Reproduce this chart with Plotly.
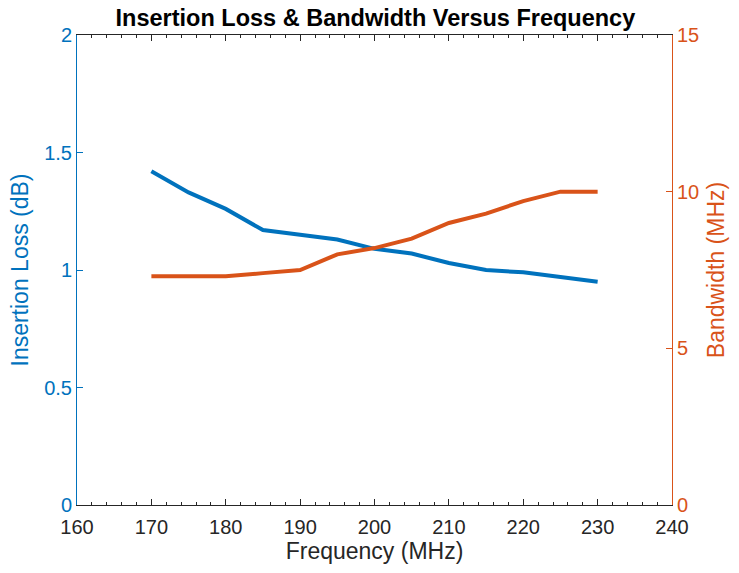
import plotly.graph_objects as go

freq = [170, 175, 180, 185, 190, 195, 200, 205, 210, 215, 220, 225, 230]
insertion_loss = [1.42, 1.33, 1.26, 1.17, 1.15, 1.13, 1.09, 1.07, 1.03, 1.00, 0.99, 0.97, 0.95]
bandwidth = [7.3, 7.3, 7.3, 7.4, 7.5, 8.0, 8.2, 8.5, 9.0, 9.3, 9.7, 10.0, 10.0]

x_ticks = [160, 170, 180, 190, 200, 210, 220, 230, 240]
y1_ticks = [0, 0.5, 1, 1.5, 2]
y1_labels = ["0", "0.5", "1", "1.5", "2"]
y2_ticks = [0, 5, 10, 15]

BLUE = "#0072BD"
ORANGE = "#D95319"
DARK = "#262626"
FONT = "Liberation Sans, Arial, sans-serif"

fig = go.Figure()
fig.add_trace(go.Scatter(x=freq, y=insertion_loss, mode="lines",
                         line=dict(color=BLUE, width=4), yaxis="y", showlegend=False))
fig.add_trace(go.Scatter(x=freq, y=bandwidth, mode="lines",
                         line=dict(color=ORANGE, width=4), yaxis="y2", showlegend=False))

fig.update_layout(
    width=739, height=573,
    margin=dict(l=77, r=67, t=35, b=68),
    paper_bgcolor="white", plot_bgcolor="white",
    font=dict(family=FONT, size=20, color=DARK),
    title=dict(text="<b>Insertion Loss & Bandwidth Versus Frequency</b>",
               x=0.508, xanchor="center", y=1 - 18 / 573, yanchor="middle",
               font=dict(family=FONT, size=23.5, color="black")),
    xaxis=dict(range=[160, 240], tickvals=x_ticks, ticks="inside", ticklen=6,
               tickcolor=DARK, showline=True, linecolor=DARK, linewidth=1,
               mirror="ticks", showgrid=False, zeroline=False,
               ticklabelstandoff=4,
               tickfont=dict(size=20, color=DARK),
               minor=dict(dtick=2, ticks="inside", ticklen=3, tickcolor=DARK, showgrid=False),
               title=dict(text="Frequency (MHz)", font=dict(size=23, color=DARK), standoff=3)),
    yaxis=dict(range=[0, 2], tickvals=y1_ticks, ticktext=y1_labels, ticks="inside",
               ticklen=6, tickcolor=BLUE, showline=True, linecolor=BLUE, linewidth=1,
               showgrid=False, zeroline=False,
               tickfont=dict(size=20, color=BLUE),
               title=dict(text="Insertion Loss (dB)", font=dict(size=23, color=BLUE), standoff=9)),
    yaxis2=dict(range=[0, 15], tickvals=y2_ticks, ticks="inside", ticklen=6,
                tickcolor=ORANGE, showline=True, linecolor=ORANGE, linewidth=1,
                overlaying="y", side="right", showgrid=False, zeroline=False,
                tickfont=dict(size=20, color=ORANGE),
                title=dict(text="Bandwidth (MHz)", font=dict(size=23, color=ORANGE), standoff=9)),
)

fig.write_html("out.html")
